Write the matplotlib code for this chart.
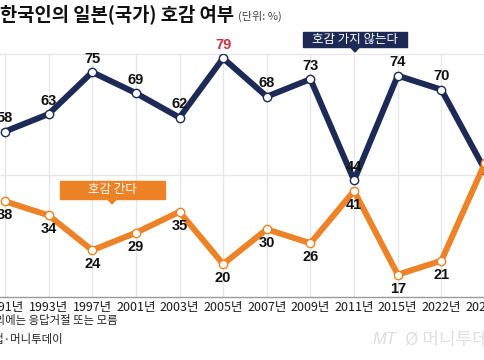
import matplotlib
matplotlib.use("Agg")
import matplotlib.pyplot as plt
from matplotlib.patches import Rectangle, Polygon

plt.rcParams['font.family'] = ['Noto Sans CJK KR', 'DejaVu Sans']

years = ["1991년", "1993년", "1997년", "2001년", "2003년", "2005년",
         "2007년", "2009년", "2011년", "2015년", "2022년", "2024년"]
dislike = [58, 63, 75, 69, 62, 79, 68, 73, 44, 74, 70, 47]
like = [38, 34, 24, 29, 35, 20, 30, 26, 41, 17, 21, 49]
title = "한국인의 일본(국가) 호감 여부"
unit = "(단위: %)"
label_dislike = "호감 가지 않는다"
label_like = "호감 간다"
note1 = "*'호감 간다'·'호감 가지 않는다' 외에는 응답거절 또는 모름"
note2 = "자료: 한국갤럽·머니투데이"

NAVY = "#1c2a55"
ORANGE = "#ee8226"
RED = "#cf3040"

W, H = 485, 360
fig = plt.figure(figsize=(W / 100, H / 100), dpi=100)
fig.patch.set_facecolor("white")


def fx(x):
    return x / W


def fy(y):
    return 1 - y / H


# axes: pixel y 54 (top) .. 297 (bottom), x 0..485
ax = fig.add_axes([0, fy(297), 1, (297 - 54) / H])
xs = list(range(len(years)))
xmax = (W - 5) / 44.2
ax.set_xlim(-5 / 44.2, xmax)
ax.set_ylim(10.6, 80.2)

for s in ["left", "right"]:
    ax.spines[s].set_visible(False)
ax.spines["top"].set_color("#e6e6e6")
ax.spines["top"].set_linewidth(0.9)
ax.spines["bottom"].set_color("#9a9a9a")
ax.spines["bottom"].set_linewidth(1.0)
ax.axhline(45.6, color="#e6e6e6", lw=0.9, zorder=0)
for x in xs:
    ax.axvline(x, color="#e6e6e6", lw=0.9, zorder=0)

ax.set_yticks([])
ax.set_xticks(xs)
ax.set_xticklabels(years, fontsize=9, color="#1a1a1a", fontweight="medium")
ax.tick_params(axis="x", length=0, pad=3)

ax.plot(xs, dislike, color=NAVY, lw=4.3, marker="o", ms=6,
        mfc="white", mec=NAVY, mew=1.0, zorder=3)
ax.plot(xs, like, color=ORANGE, lw=4.3, marker="o", ms=6,
        mfc="white", mec=ORANGE, mew=1.0, zorder=3)

num_font = dict(fontsize=10.5, fontweight="bold", family="Liberation Sans")
for x, v in zip(xs, dislike):
    if x > xmax:
        continue  # point lies outside the cropped view
    c = RED if v == max(dislike) else "#111111"
    ax.annotate(str(v), (x, v), xytext=(0, 9.5), textcoords="offset points",
                ha="center", va="center", color=c, zorder=5, **num_font)
for x, v in zip(xs, like):
    if x > xmax:
        continue
    ax.annotate(str(v), (x, v), xytext=(0, -10), textcoords="offset points",
                ha="center", va="center", color="#111111", zorder=5, **num_font)

# legend boxes
fig.patches.append(Rectangle((fx(303), fy(47)), fx(104), 15 / H,
                             transform=fig.transFigure, color=NAVY, zorder=6))
fig.patches.append(Polygon([(fx(350), fy(46.5)), (fx(360), fy(46.5)), (fx(355), fy(52))],
                           closed=True, transform=fig.transFigure, color=NAVY, zorder=6))
fig.text(fx(355), fy(39.5), label_dislike, color="white", fontsize=9,
         ha="center", va="center", zorder=7)

fig.patches.append(Rectangle((fx(60), fy(199)), fx(105), 18 / H,
                             transform=fig.transFigure, color=ORANGE, zorder=6))
fig.patches.append(Polygon([(fx(107), fy(198.5)), (fx(117), fy(198.5)), (fx(112), fy(204))],
                           closed=True, transform=fig.transFigure, color=ORANGE, zorder=6))
fig.text(fx(112.5), fy(190), label_like, color="white", fontsize=9,
         ha="center", va="center", zorder=7)

# title
fig.text(fx(0), fy(14), title, fontsize=13.5, fontweight="heavy", color="#111111",
         ha="left", va="center")
fig.text(fx(238), fy(16), unit, fontsize=8, color="#444444", ha="left", va="center")

# notes
fig.text(fx(118), fy(320), note1, fontsize=8.2, color="#222222", ha="right", va="center")
fig.text(fx(63), fy(340), note2, fontsize=8.2, color="#222222", ha="right", va="center")

# watermark
fig.text(fx(372), fy(340), "MT", fontsize=12, style="italic", color="#dcdcdc",
         ha="left", va="center", family="Liberation Sans")
fig.text(fx(405), fy(340), "Ø 머니투데이", fontsize=13, color="#e0e0e0",
         ha="left", va="center")

fig.savefig("out.png", dpi=100)
